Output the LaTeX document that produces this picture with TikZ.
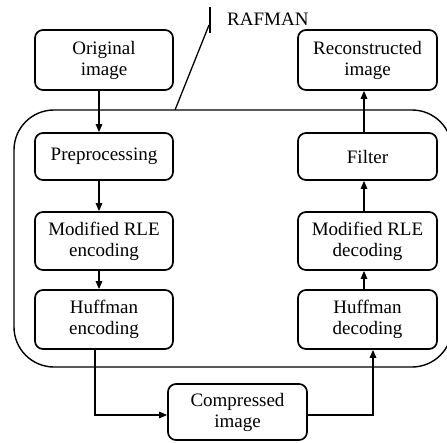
\documentclass[tikz,border=0pt]{standalone}
\usepackage{fontspec}
\setmainfont{Liberation Serif}
\usetikzlibrary{arrows.meta}
\begin{document}
\begin{tikzpicture}[x=1pt,y=1pt,
  box/.style={draw, line width=1.7pt, rounded corners=8pt, align=center,
    font=\fontsize{19}{21}\selectfont, inner sep=0pt},
  lbl/.style={font=\fontsize{19}{21}\selectfont, inner sep=0pt},
  arr/.style={line width=1.3pt, -{Triangle[length=8pt,width=6.5pt]}},
  ln/.style={line width=1.3pt}]
\useasboundingbox (0,-442) rectangle (447,0);
\clip (0,-442) rectangle (447,0);
% enclosing RAFMAN region
\node[draw, line width=1.4pt, rounded corners=40pt, minimum width=438pt,
  minimum height=257pt, inner sep=0pt] (raf) at (233,-238.5) {};
% boxes
\node[box, minimum width=138pt, minimum height=60pt] (orig)  at (104,-60)    {Original\\image};
\node[box, minimum width=139pt, minimum height=60pt] (recon) at (367.5,-60)  {Reconstructed\\image};
\node[box, minimum width=138pt, minimum height=47pt] (pre)   at (104,-156.5) {Preprocessing};
\node[box, minimum width=139pt, minimum height=47pt] (filt)  at (367.5,-156.5) {Filter};
\node[box, minimum width=138pt, minimum height=58pt] (rleE)  at (104,-241)   {Modified RLE\\encoding};
\node[box, minimum width=139pt, minimum height=58pt] (rleD)  at (367.5,-241) {Modified RLE\\decoding};
\node[box, minimum width=138pt, minimum height=59pt] (hufE)  at (104,-319.5) {Huffman\\encoding};
\node[box, minimum width=139pt, minimum height=59pt] (hufD)  at (367.5,-319.5) {Huffman\\decoding};
\node[box, minimum width=139pt, minimum height=56pt] (comp)  at (237.5,-412) {Compressed\\image};
% label RAFMAN
\node[lbl, anchor=base west] (rname) at (227,-25) {RAFMAN};
\coordinate (lA) at (175,-110);
\coordinate (lB) at (209,-25);
\coordinate (tA) at (210,-7);
\coordinate (tB) at (210,-33);
\draw[ln] (lA) -- (lB);
\draw[line width=1.7pt] (tA) -- (tB);
% connectors
\coordinate (cl) at (99,0);
\coordinate (cr) at (364,0);
\coordinate (ce) at (95,0);
\coordinate (cd) at (373,0);
\coordinate (ay) at (0,-415);
\draw[arr] (orig.south -| cl) -- (pre.north -| cl);
\draw[arr] (pre.south -| cl) -- (rleE.north -| cl);
\draw[arr] (rleE.south -| cl) -- (hufE.north -| cl);
\draw[arr] (hufD.north -| cr) -- (rleD.south -| cr);
\draw[arr] (rleD.north -| cr) -- (filt.south -| cr);
\draw[arr] (filt.north -| cr) -- (recon.south -| cr);
\draw[arr] (hufE.south -| ce) |- (comp.west |- ay);
\draw[arr] (comp.east |- ay) -| (hufD.south -| cd);
\end{tikzpicture}
\end{document}
